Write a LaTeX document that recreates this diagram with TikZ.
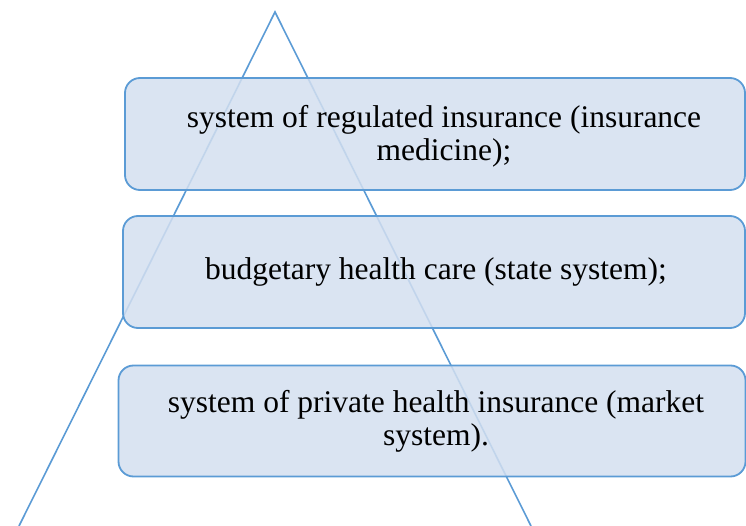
\documentclass[tikz,border=0pt]{standalone}
\usepackage{fontspec}
\setmainfont{Liberation Serif}
\definecolor{edgeblue}{HTML}{5B9BD5}
\definecolor{boxfill}{HTML}{D3DFF0}
\begin{document}
\begin{tikzpicture}[x=1pt,y=-1pt,
  tri/.style={draw=edgeblue,line width=1.6pt},
  levelbox/.style={draw=edgeblue,line width=1.8pt,fill=boxfill,fill opacity=0.85,
    rounded corners=15pt,inner sep=0pt},
  leveltext/.style={inner sep=0pt,align=center,
    font=\fontsize{31.5}{33}\selectfont}]
\useasboundingbox (0,0) rectangle (746,526);
\coordinate (apex) at (275,12);
\coordinate (bl) at (19,526);
\coordinate (br) at (531,526);
\draw[tri] (bl) -- (apex) -- (br);
\node[levelbox,minimum width=620pt,minimum height=112pt] (b1) at (435,134) {};
\node[levelbox,minimum width=622pt,minimum height=112pt] (b2) at (434,272) {};
\node[levelbox,minimum width=627pt,minimum height=111pt] (b3) at (432,421) {};
\node[leveltext,xshift=9pt,yshift=-2pt] (t1) at (b1.center)
  {system of regulated insurance (insurance\\medicine);};
\node[leveltext,xshift=2pt] (t2) at (b2.center)
  {budgetary health care (state system);};
\node[leveltext,xshift=4pt] (t3) at (b3.center)
  {system of private health insurance (market\\system).};
\end{tikzpicture}
\end{document}
